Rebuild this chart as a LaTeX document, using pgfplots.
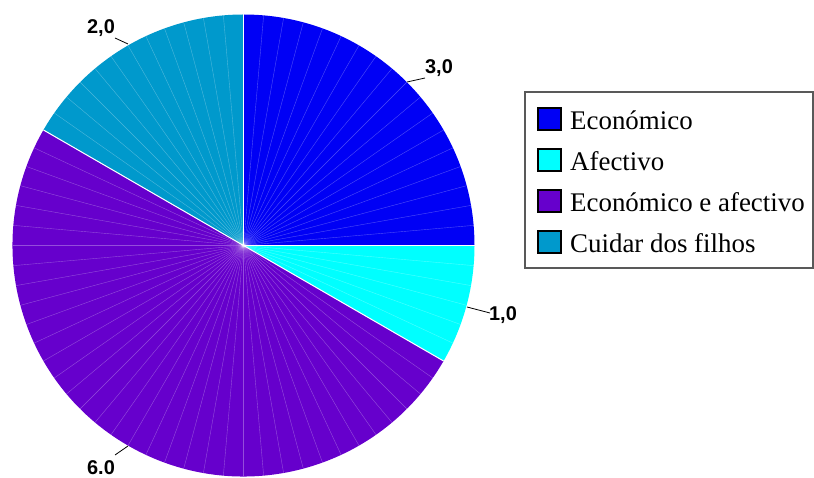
\documentclass[border=0pt]{standalone}
\usepackage{fontspec}
\setmainfont{Liberation Serif}
\newfontfamily\arialfont{Liberation Sans}
\usepackage{pgfplots}
\usepackage{pgfplotstable}
\pgfplotsset{compat=1.18}
\definecolor{cEco}{RGB}{0,0,245}
\definecolor{cAfe}{RGB}{0,255,255}
\definecolor{cEcoAfe}{RGB}{102,0,204}
\definecolor{cCui}{RGB}{0,153,204}
\pgfplotstableread{
label value
Economico 3
Afectivo 1
EconomicoAfectivo 6
Cuidar 2
}\piedata
\pgfplotstablegetelem{0}{value}\of\piedata\pgfmathsetmacro\va{\pgfplotsretval}
\pgfplotstablegetelem{1}{value}\of\piedata\pgfmathsetmacro\vb{\pgfplotsretval}
\pgfplotstablegetelem{2}{value}\of\piedata\pgfmathsetmacro\vc{\pgfplotsretval}
\pgfplotstablegetelem{3}{value}\of\piedata\pgfmathsetmacro\vd{\pgfplotsretval}
\pgfmathsetmacro\tot{\va+\vb+\vc+\vd}
\pgfmathsetmacro\aA{90}
\pgfmathsetmacro\aB{\aA-360*\va/\tot}
\pgfmathsetmacro\aC{\aB-360*\vb/\tot}
\pgfmathsetmacro\aD{\aC-360*\vc/\tot}
\pgfmathsetmacro\aE{\aD-360*\vd/\tot}
\def\cx{243.5}
\def\cy{232.5}
\begin{document}
\begin{tikzpicture}
\begin{axis}[
  scale only axis, width=814bp, height=478bp,
  xmin=0, xmax=814, ymin=0, ymax=478,
  hide axis, clip=false,
]
\coordinate (BL) at (axis cs:0,0);
\coordinate (TR) at (axis cs:814,478);
% slices
\fill[cEco] (axis cs:\cx,\cy) -- ([shift={(\aA:231bp)}]axis cs:\cx,\cy) arc[start angle=\aA, end angle=\aB, radius=231bp] -- cycle;
\fill[cAfe] (axis cs:\cx,\cy) -- ([shift={(\aB:231bp)}]axis cs:\cx,\cy) arc[start angle=\aB, end angle=\aC, radius=231bp] -- cycle;
\fill[cEcoAfe] (axis cs:\cx,\cy) -- ([shift={(\aC:231bp)}]axis cs:\cx,\cy) arc[start angle=\aC, end angle=\aD, radius=231bp] -- cycle;
\fill[cCui] (axis cs:\cx,\cy) -- ([shift={(\aD:231bp)}]axis cs:\cx,\cy) arc[start angle=\aD, end angle=\aE, radius=231bp] -- cycle;
% faint radial lines
\pgfplotsinvokeforeach{0,...,71}{
  \draw[white, opacity=0.3, line width=0.4bp] (axis cs:\cx,\cy) -- ([shift={(#1*5:231bp)}]axis cs:\cx,\cy);
}
% slice boundaries
\draw[white, line width=1bp] (axis cs:\cx,\cy) -- ([shift={(\aA:231bp)}]axis cs:\cx,\cy);
\draw[white, line width=1bp] (axis cs:\cx,\cy) -- ([shift={(\aB:231bp)}]axis cs:\cx,\cy);
\draw[white, line width=1bp] (axis cs:\cx,\cy) -- ([shift={(\aC:231bp)}]axis cs:\cx,\cy);
\draw[white, line width=1bp] (axis cs:\cx,\cy) -- ([shift={(\aD:231bp)}]axis cs:\cx,\cy);
% value labels
\draw[black, line width=0.8bp] (axis cs:407,396) -- (axis cs:425,400);
\node[font=\arialfont\bfseries\fontsize{20}{24}\selectfont, inner sep=0pt] at (axis cs:439,410) {3,0};
\draw[black, line width=0.8bp] (axis cs:467,171) -- (axis cs:490,165);
\node[font=\arialfont\bfseries\fontsize{20}{24}\selectfont, inner sep=0pt] at (axis cs:503,163) {1,0};
\draw[black, line width=0.8bp] (axis cs:128,32) -- (axis cs:115,23);
\node[font=\arialfont\bfseries\fontsize{20}{24}\selectfont, inner sep=0pt] at (axis cs:101,10) {6.0};
\draw[black, line width=0.8bp] (axis cs:128,434) -- (axis cs:115,440);
\node[font=\arialfont\bfseries\fontsize{20}{24}\selectfont, inner sep=0pt] at (axis cs:101,450) {2,0};
% legend
\draw[black!65, line width=1.5bp] (axis cs:525,386) rectangle (axis cs:813,210);
\draw[black, line width=1.2bp, fill=cEco] (axis cs:538,370) rectangle (axis cs:561,348);
\node[anchor=base west, inner sep=0pt, font=\fontsize{27}{32}\selectfont] at (axis cs:570,348) {Económico};
\draw[black, line width=1.2bp, fill=cAfe] (axis cs:538,329) rectangle (axis cs:561,307);
\node[anchor=base west, inner sep=0pt, font=\fontsize{27}{32}\selectfont] at (axis cs:570,307) {Afectivo};
\draw[black, line width=1.2bp, fill=cEcoAfe] (axis cs:538,288) rectangle (axis cs:561,266);
\node[anchor=base west, inner sep=0pt, font=\fontsize{27}{32}\selectfont] at (axis cs:570,266) {Económico e afectivo};
\draw[black, line width=1.2bp, fill=cCui] (axis cs:538,247) rectangle (axis cs:561,225);
\node[anchor=base west, inner sep=0pt, font=\fontsize{27}{32}\selectfont] at (axis cs:570,225) {Cuidar dos filhos};
\end{axis}
\pgfresetboundingbox
\path[use as bounding box] (BL) rectangle (TR);
\end{tikzpicture}
\end{document}
